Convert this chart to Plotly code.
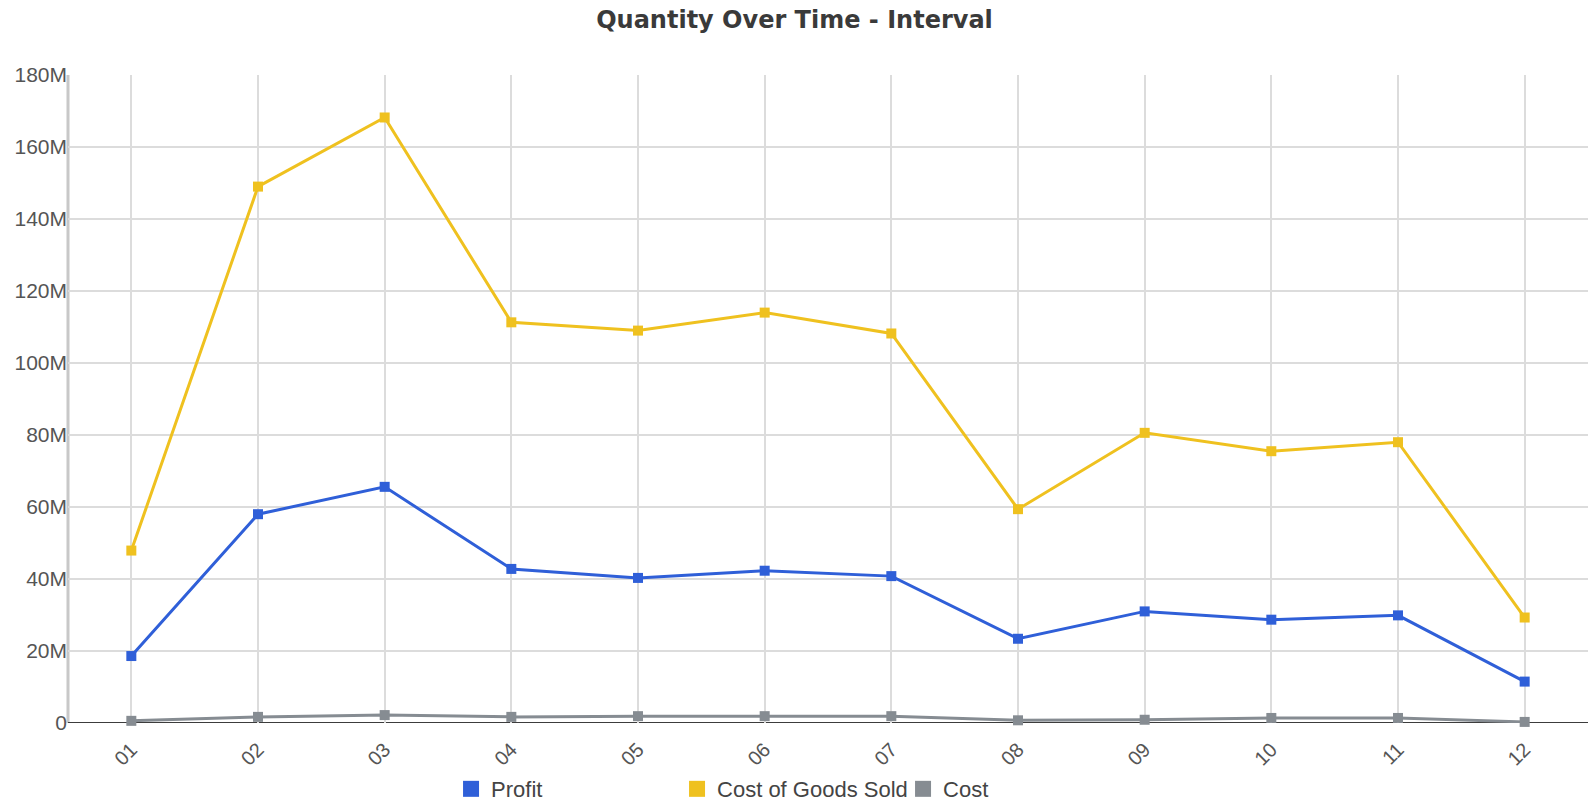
import plotly.graph_objects as go

months = ["01", "02", "03", "04", "05", "06", "07", "08", "09", "10", "11", "12"]

profit = [18.6e6, 58.0e6, 65.6e6, 42.8e6, 40.3e6, 42.3e6, 40.8e6, 23.4e6, 31.0e6, 28.7e6, 29.9e6, 11.5e6]
cost_of_goods_sold = [47.9e6, 149.0e6, 168.2e6, 111.3e6, 109.0e6, 114.0e6, 108.2e6, 59.4e6, 80.6e6, 75.5e6, 78.0e6, 29.3e6]
cost = [0.6e6, 1.7e6, 2.2e6, 1.7e6, 1.9e6, 1.9e6, 1.9e6, 0.75e6, 0.9e6, 1.4e6, 1.4e6, 0.3e6]

y_ticks = [0, 20e6, 40e6, 60e6, 80e6, 100e6, 120e6, 140e6, 160e6, 180e6]
y_tick_text = ["0", "20M", "40M", "60M", "80M", "100M", "120M", "140M", "160M", "180M"]

series = [
    ("Profit", profit, "#2f5fd8"),
    ("Cost of Goods Sold", cost_of_goods_sold, "#efc11f"),
    ("Cost", cost, "#868c92"),
]

fig = go.Figure()

# Gray series first so it sits underneath the coloured lines
for name, values, color in reversed(series):
    fig.add_trace(go.Scatter(
        x=months, y=values, name=name, mode="lines+markers",
        line=dict(color=color, width=3),
        marker=dict(symbol="square", size=10, color=color),
        showlegend=False, cliponaxis=False,
    ))

# Legend swatches: plain squares
for name, values, color in series:
    fig.add_trace(go.Scatter(
        x=[None], y=[None], name=name, mode="markers",
        marker=dict(symbol="square", size=16, color=color),
        showlegend=True,
    ))

fig.update_layout(
    width=1589, height=803,
    margin=dict(l=68, r=1, t=75, b=80, autoexpand=False),
    paper_bgcolor="white", plot_bgcolor="white",
    title=dict(
        text="<b>Quantity Over Time - Interval</b>",
        x=0.5, xanchor="center", y=0.975, yanchor="middle",
        font=dict(family="DejaVu Sans", size=24, color="#3a3a3a"),
    ),
    font=dict(family="Liberation Sans", size=21, color="#555555"),
    legend=dict(
        orientation="h", x=0.252, xanchor="left",
        yref="container", y=0.0174, yanchor="middle",
        font=dict(family="Liberation Sans", size=22, color="#444444"),
        entrywidth=181, entrywidthmode="pixels",
        itemsizing="trace", traceorder="normal",
        bgcolor="rgba(0,0,0,0)",
    ),
    xaxis=dict(
        type="category", range=[-0.5, 11.5], automargin=False,
        showgrid=True, gridcolor="#dcdcdc", gridwidth=1.5,
        tickangle=-45, ticks="", ticklabelstandoff=10,
        tickfont=dict(size=20, color="#555555"),
        showline=False, zeroline=False,
    ),
    yaxis=dict(
        range=[0, 180e6], tickvals=y_ticks, ticktext=y_tick_text, automargin=False,
        showgrid=True, gridcolor="#dcdcdc", gridwidth=1.5,
        showline=False, zeroline=False, ticks="",
        tickfont=dict(size=21, color="#555555"),
    ),
    shapes=[
        dict(type="line", xref="paper", yref="paper", x0=0, x1=0, y0=0, y1=1,
             line=dict(color="#c8c8c8", width=3), layer="below"),
        dict(type="line", xref="paper", yref="y", x0=0, x1=1, y0=0, y1=0,
             line=dict(color="#3c3c3c", width=2), layer="below"),
    ],
)

fig.write_html("out.html")
